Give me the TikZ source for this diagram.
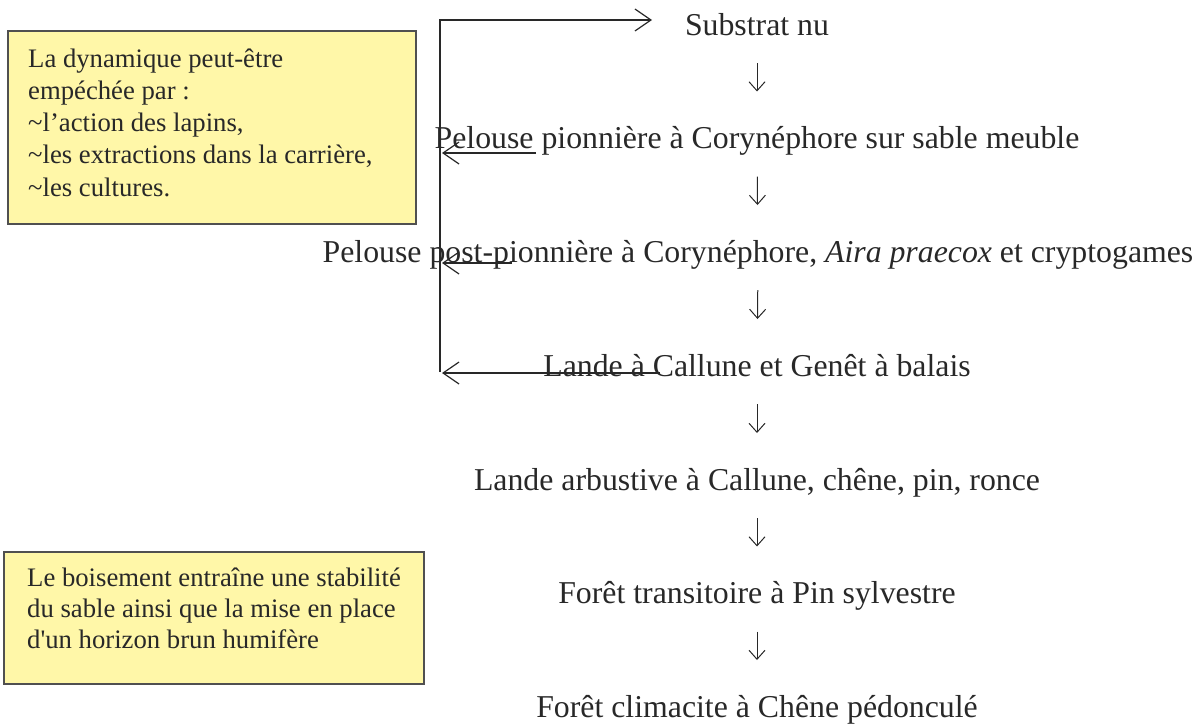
\documentclass[tikz,border=0pt]{standalone}
\usepackage{fontspec}
\setmainfont{Liberation Serif}
\usetikzlibrary{arrows.meta}
\definecolor{boxfill}{RGB}{255,247,168}
\definecolor{boxline}{RGB}{80,80,80}
\definecolor{ink}{RGB}{40,40,40}
\tikzset{
  stage/.style={anchor=base, inner sep=0pt, text=ink, font=\fontsize{31.8}{38}\selectfont},
  note/.style={draw=boxline, line width=1.6pt, fill=boxfill},
  notetext/.style={anchor=base west, inner sep=0pt, text=ink, font=\fontsize{26.7}{32}\selectfont},
  down/.style={draw=ink, line width=1pt, -{Straight Barb[length=9pt,width=16pt]}, shorten <=28pt, shorten >=57pt},
  side/.style={draw=ink, line width=1.2pt, -{Straight Barb[length=16pt,width=22pt]}},
}
\begin{document}
\begin{tikzpicture}[x=1pt,y=-1pt]
\useasboundingbox (0,0) rectangle (1198,724);
% notes
\draw[note] (8,31) rectangle (416,224);
\draw[note] (4,552) rectangle (424,684);
\node[notetext] (t1) at (28,67) {La dynamique peut-être};
\node[notetext] (t2) at (28,99) {empéchée par :};
\node[notetext] (t3) at (28,131) {\textasciitilde l’action des lapins,};
\node[notetext] (t4) at (28,163.5) {\textasciitilde les extractions dans la carrière,};
\node[notetext] (t5) at (28,196) {\textasciitilde les cultures.};
\node[notetext] (u1) at (27,586) {Le boisement entraîne une stabilité};
\node[notetext] (u2) at (27,617) {du sable ainsi que la mise en place};
\node[notetext] (u3) at (27,648) {d\textquotesingle un horizon brun humifère};
% stages
\node[stage] (s1) at (757,35) {Substrat nu};
\node[stage] (s2) at (757,148.5) {Pelouse pionnière à Corynéphore sur sable meuble};
\node[stage] (s3) at (758,262) {Pelouse post-pionnière à Corynéphore, \textit{Aira praecox} et cryptogames};
\node[stage] (s4) at (757,376) {Lande à Callune et Genêt à balais};
\node[stage] (s5) at (757,490) {Lande arbustive à Callune, chêne, pin, ronce};
\node[stage] (s6) at (757,603.5) {Forêt transitoire à Pin sylvestre};
\node[stage] (s7) at (757,717) {Forêt climacite à Chêne pédonculé};
\draw[down] (s1.base) -- (s2.base);
\draw[down] (s2.base) -- (s3.base);
\draw[down] (s3.base) -- (s4.base);
\draw[down] (s4.base) -- (s5.base);
\draw[down] (s5.base) -- (s6.base);
\draw[down] (s6.base) -- (s7.base);
% feedback loop
\coordinate (bot) at (440,372);
\coordinate (top) at (440,20);
\coordinate (tipS) at (652,20);
\coordinate (r1) at (536,153);
\coordinate (l1) at (442,153);
\coordinate (r2) at (512,263);
\coordinate (l2) at (442,263);
\coordinate (r3) at (660,373);
\coordinate (l3) at (442,373);
\draw[side] (bot) -- (top) -- (tipS);
\draw[side] (r1) -- (l1);
\draw[side] (r2) -- (l2);
\draw[side] (r3) -- (l3);
\end{tikzpicture}
\end{document}
